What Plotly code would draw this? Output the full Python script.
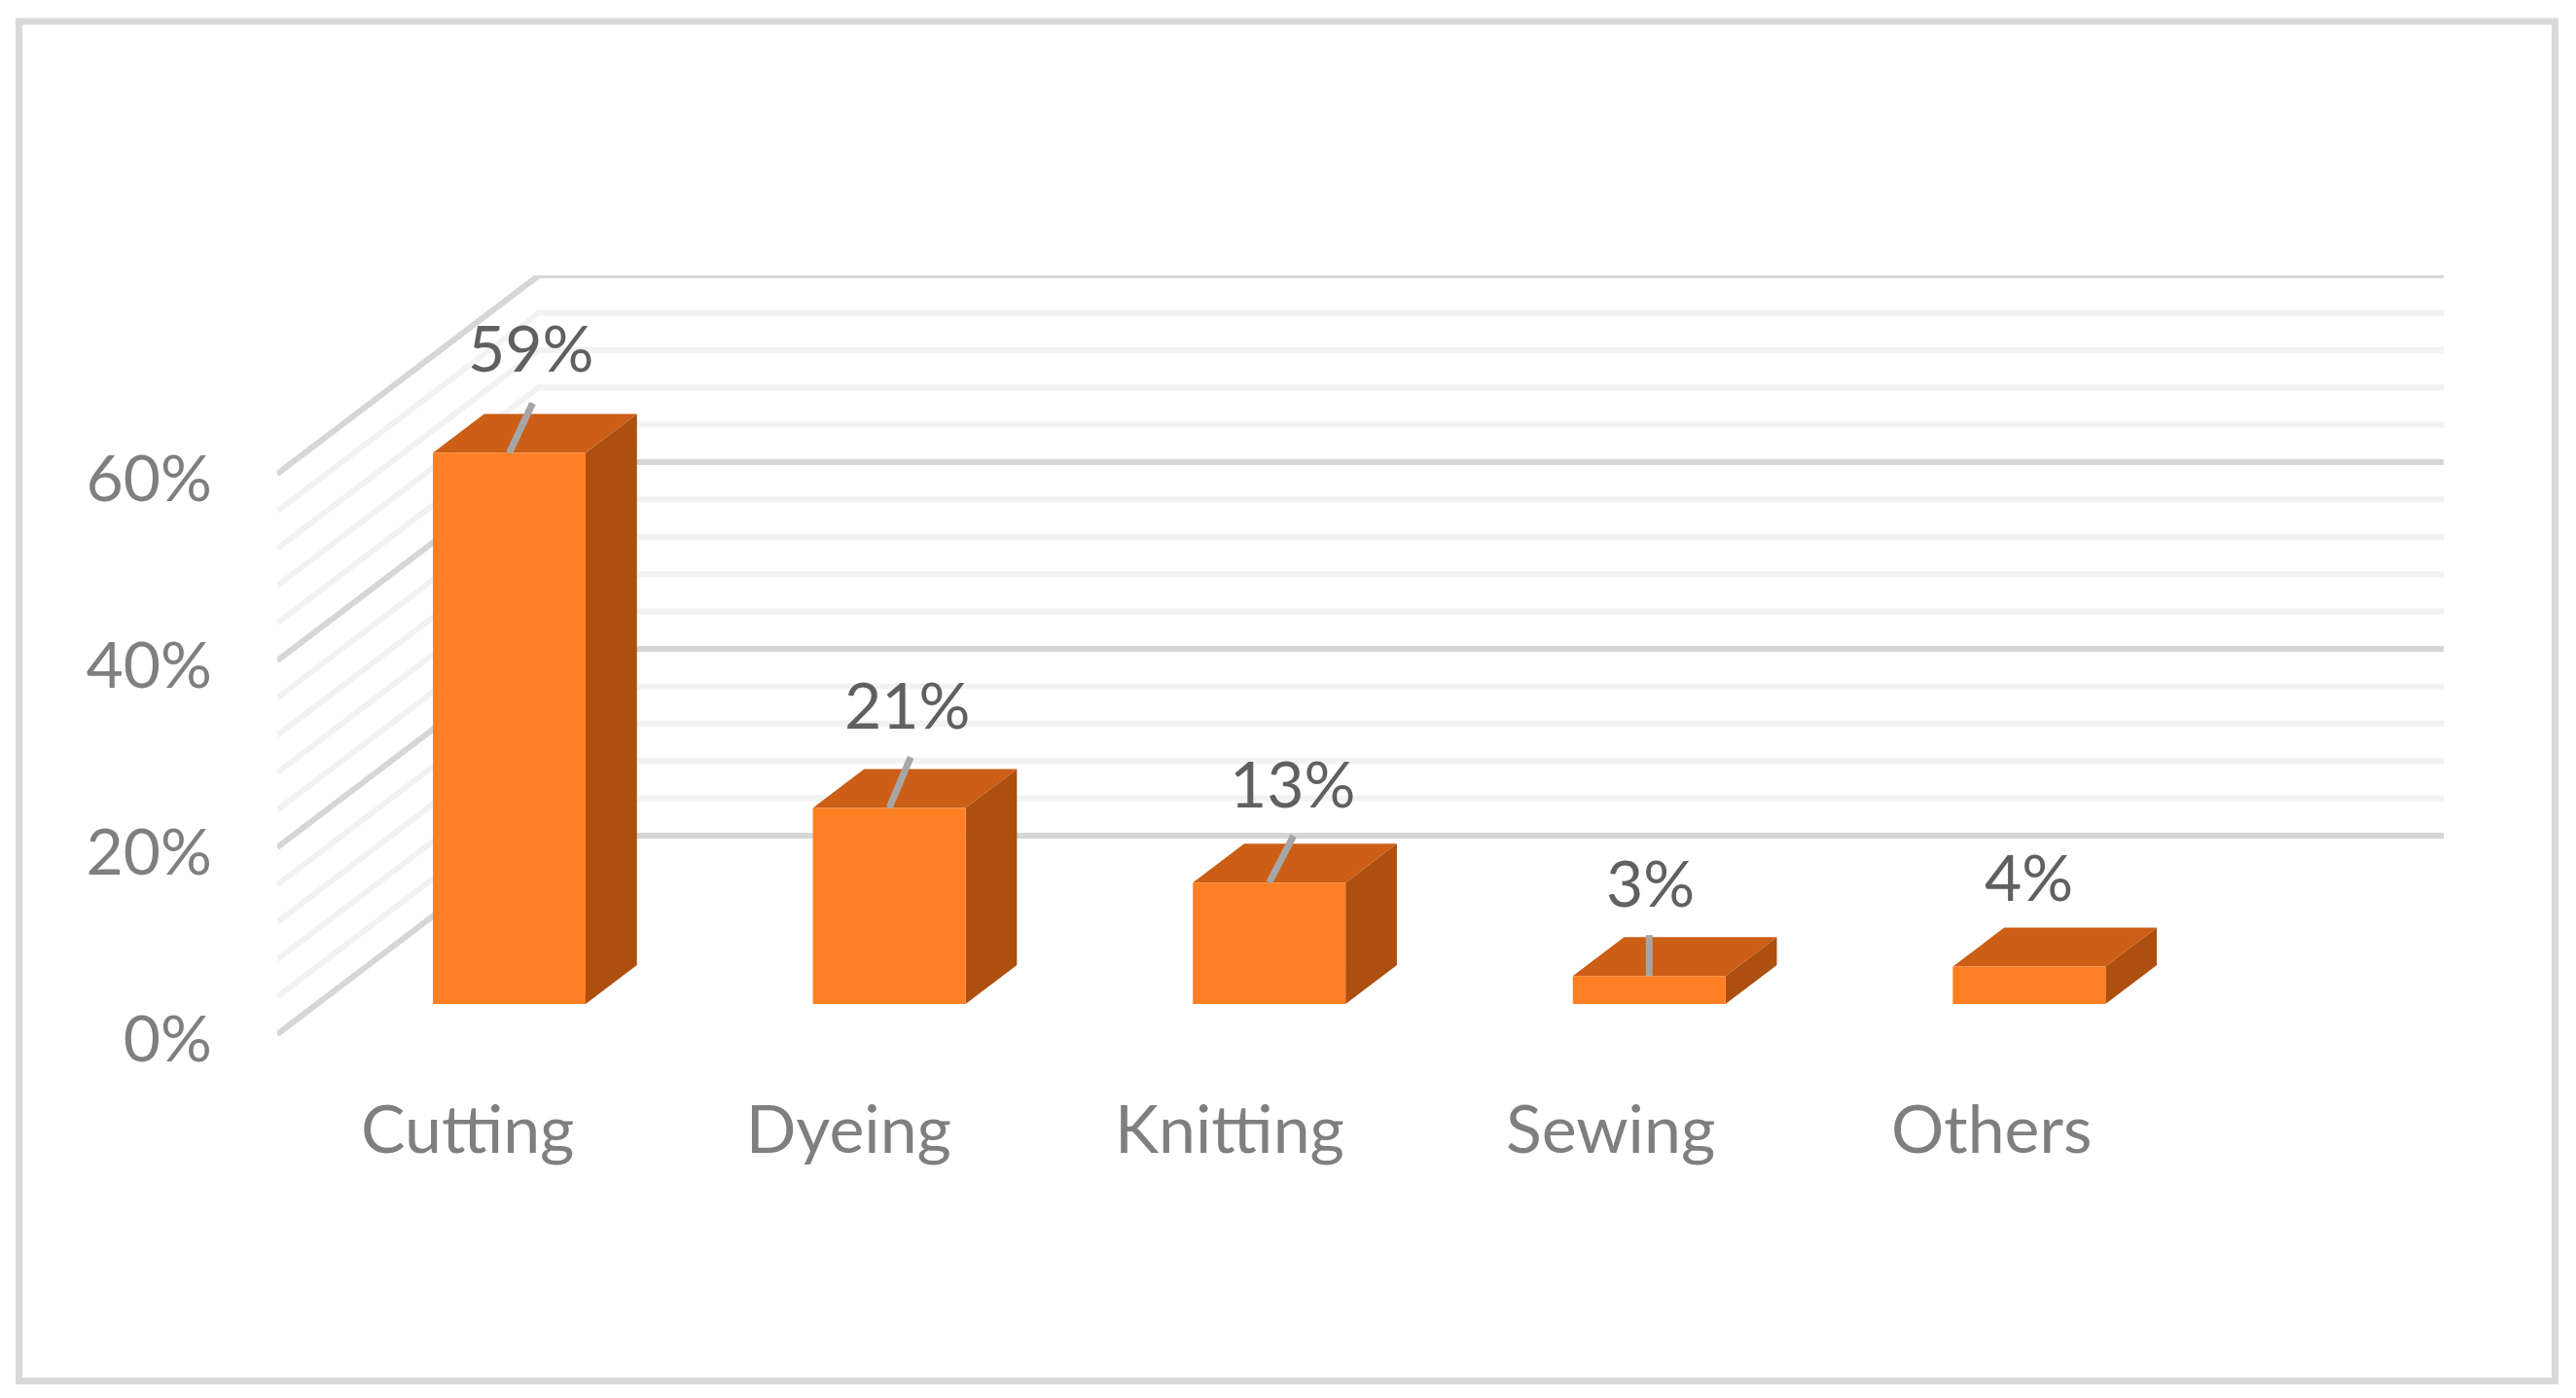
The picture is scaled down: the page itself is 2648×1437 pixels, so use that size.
import plotly.graph_objects as go

# ---- data ----
categories = ["Cutting", "Dyeing", "Knitting", "Sewing", "Others"]
values = [59, 21, 13, 3, 4]
value_labels = ["59%", "21%", "13%", "3%", "4%"]
y_ticks = [0, 20, 40, 60]
y_tick_labels = ["0%", "20%", "40%", "60%"]
grid_levels = list(range(0, 61, 4))
major_levels = [0, 20, 40, 60]

# ---- layout constants (pixels) ----
W, H = 2648, 1437
L, R, T, B = 285, 2512, 283, 1087
ZERO_PX = 1063
PX_PER_CAT = 391.6
PX_PER_PCT = 9.6
DEPTH_PX_X, DEPTH_PX_Y = 269, 204
Y_MIN = (ZERO_PX - B) / PX_PER_PCT
Y_MAX = (ZERO_PX - T) / PX_PER_PCT
TICK_NUDGE = -0.5  # labels sit a little below the end of their gridline

# oblique projection: depth 0 is the front of the floor, 1 the back wall
kx = DEPTH_PX_X / PX_PER_CAT
ky = DEPTH_PX_Y / PX_PER_PCT
BAR_HALF = 78.5 / PX_PER_CAT
BAR_D0 = 0.152
BAR_D1 = BAR_D0 + 40 / DEPTH_PX_Y
BAR_STEP = 390.6 / PX_PER_CAT
BAR_SHIFT = 1.8 / PX_PER_CAT


def proj(x, v, d):
    return x + d * kx, v + d * ky


def bar_x(i):
    return BAR_SHIFT + i * BAR_STEP


def poly(points, color):
    xs, ys = [], []
    for x, v, d in points:
        px_, py_ = proj(x, v, d)
        xs.append(px_)
        ys.append(py_)
    xs.append(xs[0])
    ys.append(ys[0])
    return go.Scatter(x=xs, y=ys, mode="lines", fill="toself", fillcolor=color,
                      line=dict(width=0, color=color), hoverinfo="skip", showlegend=False)


fig = go.Figure()

# gridlines: side wall then back wall
for major in (False, True):
    for lv in grid_levels:
        if (lv in major_levels) != major:
            continue
        xs, ys = zip(*[proj(-0.5, lv, 0), proj(-0.5, lv, 1), proj(4.5, lv, 1)])
        fig.add_trace(go.Scatter(
            x=xs, y=ys, mode="lines", hoverinfo="skip", showlegend=False,
            line=dict(color="#d6d6d6" if major else "#f2f2f2", width=6),
        ))

# bars
FRONT, SIDE, TOP = "#ff7f24", "#ad4f0f", "#cc5e16"
for i, v in enumerate(values):
    a, b = bar_x(i) - BAR_HALF, bar_x(i) + BAR_HALF
    fig.add_trace(poly([(b, 0, BAR_D0), (b, 0, BAR_D1), (b, v, BAR_D1), (b, v, BAR_D0)], SIDE))
    fig.add_trace(poly([(a, v, BAR_D0), (b, v, BAR_D0), (b, v, BAR_D1), (a, v, BAR_D1)], TOP))
    fig.add_trace(poly([(a, 0, BAR_D0), (b, 0, BAR_D0), (b, v, BAR_D0), (a, v, BAR_D0)], FRONT))

# leader lines and value labels (offsets from the top-front centre of each bar, px)
leader_dx = [24, 22, 25, 0, None]
leader_dy = [51, 52, 48, 42, None]
label_dx = [22, 18, 24, 1, 0]
label_dy = [109, 107, 103, 97, 93]
for i, v in enumerate(values):
    x0, y0 = proj(bar_x(i), v, BAR_D0)
    if leader_dx[i] is not None:
        fig.add_trace(go.Scatter(
            x=[x0, x0 + leader_dx[i] / PX_PER_CAT], y=[y0, y0 + leader_dy[i] / PX_PER_PCT],
            mode="lines", line=dict(color="#a6a6a6", width=7), hoverinfo="skip", showlegend=False))
    fig.add_annotation(x=x0, y=y0, xref="x", yref="y", text=value_labels[i], showarrow=False,
                       xshift=label_dx[i], yshift=label_dy[i], xanchor="center", yanchor="middle",
                       font=dict(family="Lato", size=66, color="#606060"))


# outer frame
def fx(p):
    return (p - L) / (R - L)


def fy(p):
    return (B - p) / (B - T)


fig.add_shape(type="rect", xref="paper", yref="paper", layer="below",
              x0=fx(19.5), x1=fx(2626.5), y0=fy(1419.5), y1=fy(22),
              line=dict(color="#d9d9d9", width=7), fillcolor="white")

fig.update_layout(
    width=W, height=H, autosize=False,
    margin=dict(l=L, r=W - R, t=T, b=H - B, pad=0),
    paper_bgcolor="white", plot_bgcolor="rgba(0,0,0,0)", showlegend=False,
    xaxis=dict(range=[-0.5, 4.5 + kx], tickmode="array", tickvals=list(range(5)),
               ticktext=categories, showgrid=False, zeroline=False, showline=False,
               ticks="", ticklabelstandoff=29,
               tickfont=dict(family="Lato", size=68, color="#7f7f7f")),
    yaxis=dict(range=[Y_MIN, Y_MAX], tickmode="array",
               tickvals=[t + TICK_NUDGE for t in y_ticks],
               ticktext=y_tick_labels, showgrid=False, zeroline=False, showline=False,
               ticks="", ticklabelstandoff=66,
               tickfont=dict(family="Lato", size=66, color="#7f7f7f")),
)

fig.write_html("out.html", config=dict(displayModeBar=False),
               post_script="document.body.style.margin='0';")
